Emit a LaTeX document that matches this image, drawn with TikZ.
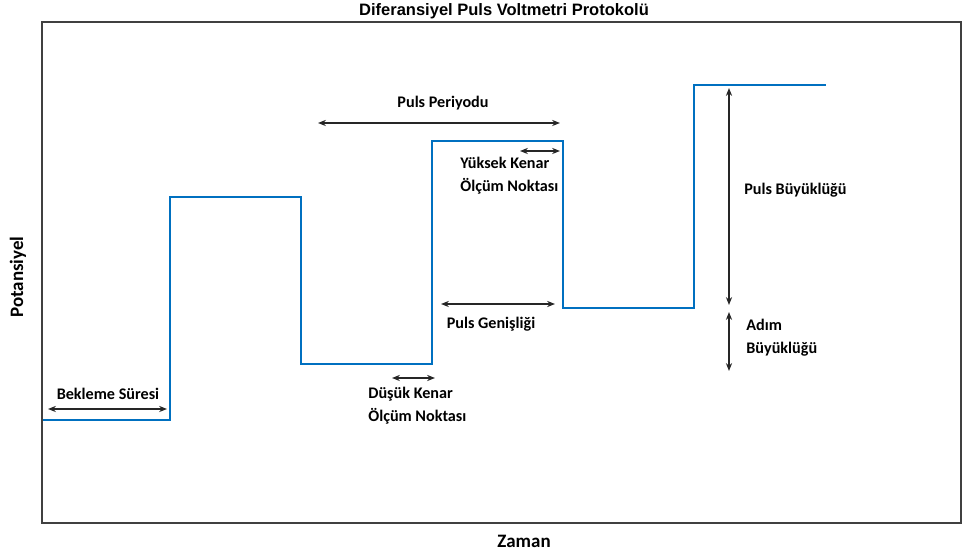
\documentclass[tikz,border=0pt]{standalone}
\usepackage{fontspec}
\setmainfont{Carlito}
\newfontfamily\titlefont{Liberation Sans}
\usetikzlibrary{arrows.meta,positioning}
\definecolor{pulsblue}{RGB}{0,112,192}

\begin{document}
\begin{tikzpicture}[x=0.02cm, y=-0.02cm,
        font=\bfseries\fontsize{9.2}{13}\selectfont,
        wave/.style={pulsblue, line width=1.4pt},
        dim/.style={{Stealth[length=4.5pt,width=3.5pt]}-{Stealth[length=4.5pt,width=3.5pt]}, line width=0.75pt, black!85},
        lbl/.style={inner sep=0pt, align=left},
        axlbl/.style={inner sep=0pt, font=\bfseries\fontsize{10.8}{12}\selectfont}]
        \useasboundingbox (0,0) rectangle (964,553);

        % frame and titles
        \draw[line width=1.1pt, black!75] (42,22) rectangle (961,523);
        \node[inner sep=0pt, font=\titlefont\bfseries\fontsize{9.4}{11}\selectfont] (title) at (504,11) {Diferansiyel Puls Voltmetri Protokolü};
        \node[axlbl] (zaman) at (524,541) {Zaman};
        \node[axlbl, rotate=90] (pot) at (18,277) {Potansiyel};

        % staircase waveform
        \coordinate (w0) at (43,420);
        \coordinate (w1) at (170,420);
        \coordinate (w2) at (170,197);
        \coordinate (w3) at (301,197);
        \coordinate (w4) at (301,364);
        \coordinate (w5) at (432,364);
        \coordinate (w6) at (432,141);
        \coordinate (w7) at (563,141);
        \coordinate (w8) at (563,308);
        \coordinate (w9) at (694,308);
        \coordinate (w10) at (694,85);
        \coordinate (w11) at (826,85);
        \draw[wave] (w0) -- (w1) -- (w2) -- (w3) -- (w4) -- (w5) -- (w6)
            -- (w7) -- (w8) -- (w9) -- (w10) -- (w11);

        % labels
        \node[lbl] (bekleme) at (108,394) {Bekleme Süresi};
        \node[lbl] (periyot) at (443,103) {Puls Periyodu};
        \node[lbl, anchor=west] (yuksek) at (460,176) {Yüksek Kenar\\Ölçüm Noktası};
        \node[lbl] (genislik) at (491,324) {Puls Genişliği};
        \node[lbl, anchor=west] (dusuk) at (368,406) {Düşük Kenar\\Ölçüm Noktası};
        \node[lbl, anchor=west] (buyukluk) at (744,190) {Puls Büyüklüğü};
        \node[lbl, anchor=west] (adim) at (746,338) {Adım\\Büyüklüğü};

        % arrow end points
        \coordinate (b1) at (48,409);    \coordinate (b2) at (167,409);
        \coordinate (p1) at (318,123);   \coordinate (p2) at (560,123);
        \coordinate (y1) at (520,151);   \coordinate (y2) at (560,151);
        \coordinate (g1) at (441,304);   \coordinate (g2) at (555,304);
        \coordinate (d1) at (392,378);   \coordinate (d2) at (435,378);
        \coordinate (m1) at (729,88);    \coordinate (m2) at (729,305);
        \coordinate (a1) at (729,312);   \coordinate (a2) at (729,371);

        \draw[dim] (b1) -- (b2);
        \draw[dim] (p1) -- (p2);
        \draw[dim] (y1) -- (y2);
        \draw[dim] (g1) -- (g2);
        \draw[dim] (d1) -- (d2);
        \draw[dim] (m1) -- (m2);
        \draw[dim] (a1) -- (a2);
\end{tikzpicture}
\end{document}
